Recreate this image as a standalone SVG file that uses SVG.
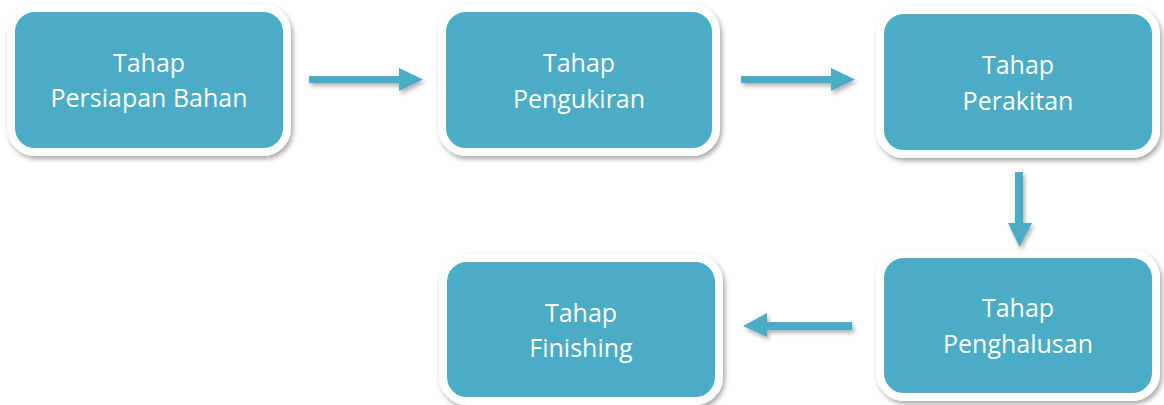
<svg xmlns="http://www.w3.org/2000/svg" width="1164" height="405" viewBox="0 0 1164 405">
<defs>
<filter id="sh" x="-10%" y="-10%" width="125%" height="130%">
<feDropShadow dx="2" dy="3" stdDeviation="2.5" flood-color="#000" flood-opacity="0.35"/>
</filter>
<filter id="ash" x="-10%" y="-40%" width="125%" height="180%">
<feDropShadow dx="2" dy="3" stdDeviation="2" flood-color="#000" flood-opacity="0.3"/>
</filter>
</defs>
<style>
.box{fill:#4BACC6;stroke:#fff;stroke-width:8;filter:url(#sh)}
.t{font-family:"Open Sans","Noto Sans",sans-serif;font-size:25px;fill:#fff;text-anchor:middle}
.ar{fill:#4BACC6;filter:url(#ash)}
</style>
<rect width="1164" height="405" fill="#fff"/>
<g id="n1"><rect class="box" x="11" y="8" width="276" height="144" rx="24"/><text class="t" x="149" y="72">Tahap</text><text class="t" x="149" y="107">Persiapan Bahan</text></g>
<g id="n2"><rect class="box" x="442" y="8" width="274" height="144" rx="24"/><text class="t" x="579" y="72">Tahap</text><text class="t" x="579" y="108">Pengukiran</text></g>
<g id="n3"><rect class="box" x="880" y="10" width="276" height="144" rx="24"/><text class="t" x="1018" y="74">Tahap</text><text class="t" x="1018" y="110">Perakitan</text></g>
<g id="n4"><rect class="box" x="880" y="254" width="276" height="143" rx="24"/><text class="t" x="1018" y="317">Tahap</text><text class="t" x="1018" y="353">Penghalusan</text></g>
<g id="n5"><rect class="box" x="443" y="258" width="276" height="143" rx="24"/><text class="t" x="581" y="322">Tahap</text><text class="t" x="581" y="357">Finishing</text></g>
<g id="connectors">
<polygon class="ar" points="309,76 399,76 399,68 423,79.5 399,91 399,83 309,83"/>
<polygon class="ar" points="741,76 831,76 831,68 855,79.5 831,91 831,83 741,83"/>
<polygon class="ar" points="1015,172 1023,172 1023,223 1032,223 1019.5,247 1008,223 1015,223"/>
<polygon class="ar" points="852,322 767,322 767,313 743,326 767,337 767,330 852,330"/>
</g>
</svg>
